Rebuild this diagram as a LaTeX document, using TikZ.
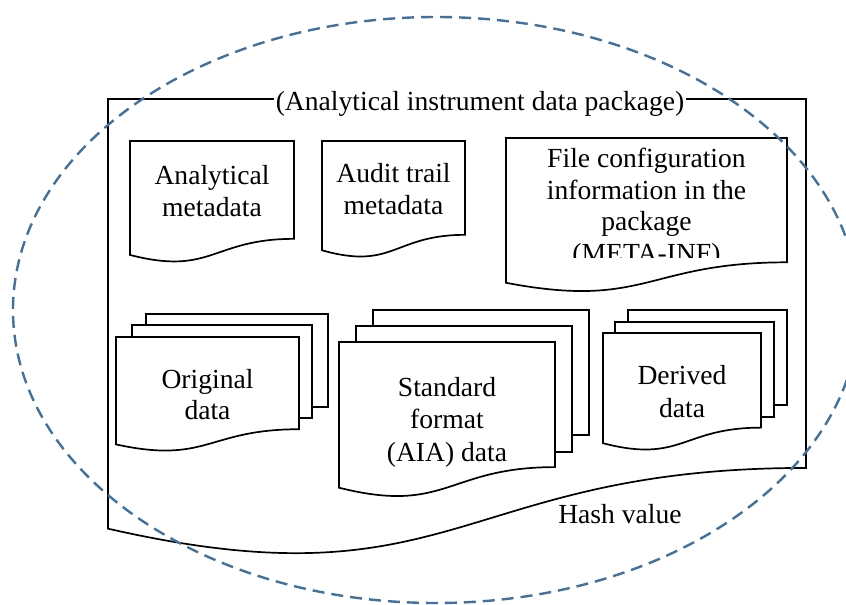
\documentclass[tikz,border=0pt]{standalone}
\usepackage{fontspec}
\setmainfont{Liberation Serif}
\definecolor{hullblue}{RGB}{65,113,156}

% Flowchart "document" sheet: top-left corner (x,y), width w, height h
\newcommand{\docsheet}[4]{%
  \draw[sheet] (#1,#2) -- ({#1+#3},#2) -- ({#1+#3},{#2+0.802*#4})
    .. controls ({#1+0.5*#3},{#2+0.802*#4}) and ({#1+0.5*#3},{#2+1.1075*#4})
    .. (#1,{#2+0.934*#4}) -- cycle;}

\tikzset{
  sheet/.style={draw=black, line width=1.7pt, fill=white, line join=miter},
  lbl/.style={font=\fontsize{27.6}{32}\selectfont, align=center, inner sep=0pt},
  hull/.style={draw=hullblue, line width=2.4pt, dash pattern=on 12pt off 7pt},
}

\begin{document}
\begin{tikzpicture}[x=1pt, y=-1pt]
  \useasboundingbox (0,0) rectangle (846,605);
  \clip (0,0) rectangle (846,605);
  \fill[white] (0,0) rectangle (846,605);

  % package frame with its title breaking the top edge
  \docsheet{108}{99}{698}{460}
  \node[lbl, fill=white, inner xsep=2pt, inner ysep=0pt, anchor=base] (title) at (480,110)
    {(Analytical instrument data package)};

  % upper row of single sheets
  \docsheet{130}{141}{164}{122}
  \node[lbl] (anameta) at (212,191) {Analytical\\metadata};

  \docsheet{322}{141}{143}{117}
  \node[lbl] (audit) at (393.5,189) {Audit trail\\metadata};

  \docsheet{506}{138}{281}{155}
  \begin{scope}
    \clip (506,138) rectangle (787,257);
    \node[lbl, font=\fontsize{27.6}{31.5}\selectfont] (metainf) at (646.5,208)
      {File configuration\\information in the\\package\\(META-INF)};
  \end{scope}

  % original data stack
  \draw[sheet] (146,314) rectangle (328,407);
  \draw[sheet] (132,325) rectangle (312,418);
  \docsheet{116}{337}{183}{115}
  \node[lbl, font=\fontsize{27.6}{31}\selectfont] (orig) at (207.5,395) {Original\\data};

  % standard format stack
  \draw[sheet] (373,310) rectangle (589,435);
  \draw[sheet] (356,326) rectangle (572,452);
  \docsheet{339}{342}{216}{156}
  \node[lbl, font=\fontsize{27.6}{32.5}\selectfont] (aia) at (447,422) {Standard\\format\\(AIA) data};

  % derived data stack
  \draw[sheet] (628,310) rectangle (787,405);
  \draw[sheet] (615,322) rectangle (774,417);
  \docsheet{603}{333}{158}{118}
  \node[lbl, font=\fontsize{27.6}{33}\selectfont] (derived) at (682,392) {Derived\\data};

  \node[lbl, anchor=base] (hash) at (620,523) {Hash value};

  % dashed hull round the whole package
  \draw[hull] (436,310) ellipse [x radius=423pt, y radius=293pt];
\end{tikzpicture}
\end{document}
